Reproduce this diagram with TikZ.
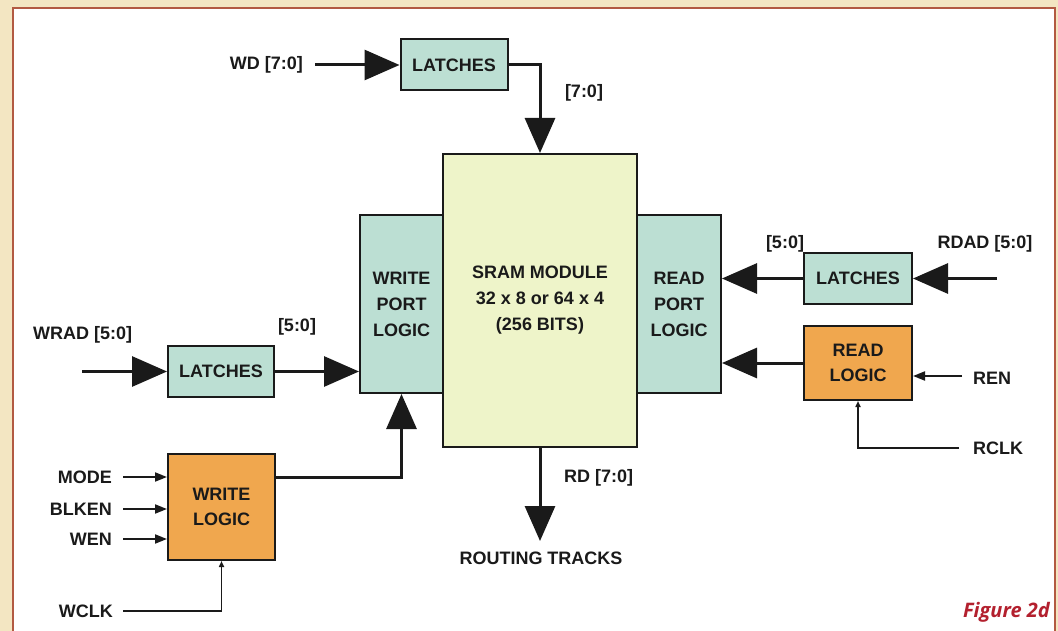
\documentclass[tikz,border=0pt]{standalone}
\usepackage{fontspec}
\setmainfont{Liberation Sans}
\newfontfamily\figfont{Open Sans}
\usetikzlibrary{arrows.meta}
\definecolor{tanbg}{HTML}{F3E6C2}
\definecolor{frameline}{HTML}{B25A42}
\definecolor{tealfill}{HTML}{BCDFD3}
\definecolor{sramfill}{HTML}{EEF4C9}
\definecolor{orangefill}{HTML}{F0A74E}
\definecolor{ink}{HTML}{1A1A1A}
\definecolor{figred}{HTML}{B3202E}
\tikzset{
  blk/.style={draw=ink, line width=2pt, inner sep=0pt, align=center, text=ink,
     font=\fontsize{18}{26}\selectfont\bfseries},
  teal/.style={blk, fill=tealfill},
  orng/.style={blk, fill=orangefill, font=\fontsize{18}{25}\selectfont\bfseries},
  sramstyle/.style={blk, fill=sramfill},
  lbl/.style={text=ink, inner sep=0pt, font=\fontsize{18}{20}\selectfont\bfseries},
  bus/.style={draw=ink, line width=3pt, -{Triangle[length=35pt,width=30pt]}},
  sig/.style={draw=ink, line width=2pt, -{Triangle[length=12pt,width=9pt]}},
  clk/.style={draw=ink, line width=1.6pt, -{Triangle[length=6pt,width=5pt]}},
}
\begin{document}
\begin{tikzpicture}[x=1pt,y=-1pt]
\useasboundingbox (0,0) rectangle (1058,631);
\fill[tanbg] (0,0) rectangle (1058,631);
\fill[white] (13,8) rectangle (1055,631);
\draw[frameline, line width=2pt] (13,631) -- (13,8) -- (1055,8) -- (1055,631);

% blocks
\node[sramstyle, minimum width=194pt, minimum height=293pt] (sram) at (540,300.5)
  {SRAM MODULE\\32 x 8 or 64 x 4\\(256 BITS)};
\node[teal, minimum width=83pt, minimum height=178pt] (wport) at (401.5,304)
  {WRITE\\PORT\\LOGIC};
\node[teal, minimum width=84pt, minimum height=178pt] (rport) at (679,304)
  {READ\\PORT\\LOGIC};
\node[teal, minimum width=107pt, minimum height=51pt] (latT) at (454,65) {LATCHES};
\node[teal, minimum width=108pt, minimum height=51pt] (latR) at (858,278.5) {LATCHES};
\node[teal, minimum width=106pt, minimum height=51pt] (latL) at (221,371.5) {LATCHES};
\node[orng, minimum width=108pt, minimum height=74pt] (rlog) at (858,363) {READ\\LOGIC};
\node[orng, minimum width=107pt, minimum height=106pt] (wlog) at (221.5,507) {WRITE\\LOGIC};

% free ends
\coordinate (wdin) at (315,65);
\coordinate (wradin) at (82,371.5);
\coordinate (rdadin) at (997,278.5);
\coordinate (renin) at (962,376);
\coordinate (rclkin) at (959,448);
\coordinate (modein) at (123,477);
\coordinate (blkenin) at (123,509);
\coordinate (wenin) at (123,539);
\coordinate (wclkin) at (123,611);
\coordinate (wlout) at (275,477);
\coordinate (rdout) at (540,541);

% connectors
\draw[bus] (wdin) -- (latT.west);
\draw[bus] (latT.east) -| (sram.north);
\draw[bus] (wradin) -- (latL.west);
\draw[bus] (latL.east) -- (latL.east -| wport.west);
\draw[bus] (wlout) -| (wport.south);
\draw[bus] (rdadin) -- (latR.east);
\draw[bus] (latR.west) -- (latR.west -| rport.east);
\draw[bus] (rlog.west) -- (rlog.west -| rport.east);
\draw[bus] (sram.south) -- (rdout);
\draw[sig] (modein) -- (modein -| wlog.west);
\draw[sig] (blkenin) -- (blkenin -| wlog.west);
\draw[sig] (wenin) -- (wenin -| wlog.west);
\draw[sig] (renin) -- (renin -| rlog.east);
\draw[clk] (wclkin) -| (wlog.south);
\draw[clk] (rclkin) -| (rlog.south);

% labels
\node[lbl, anchor=east] (lwd) at (303,65) {WD [7:0]};
\node[lbl] (l70) at (584,93) {[7:0]};
\node[lbl, anchor=west] (lwrad) at (33,335) {WRAD [5:0]};
\node[lbl] (l50a) at (297,327) {[5:0]};
\node[lbl] (l50b) at (785,244) {[5:0]};
\node[lbl] (lrdad) at (985,244) {RDAD [5:0]};
\node[lbl, anchor=west] (lren) at (973,378) {REN};
\node[lbl, anchor=west] (lrclk) at (973,448) {RCLK};
\node[lbl, anchor=east] (lmode) at (112,477) {MODE};
\node[lbl, anchor=east] (lblken) at (112,509) {BLKEN};
\node[lbl, anchor=east] (lwen) at (112,539) {WEN};
\node[lbl, anchor=east] (lwclk) at (113,611) {WCLK};
\node[lbl, anchor=west] (lrd) at (564,478) {RD [7:0]};
\node[lbl] (lrt) at (541,558) {ROUTING TRACKS};
\node[text=figred, inner sep=0pt, font=\figfont\bfseries\itshape\fontsize{20}{22}\selectfont, anchor=east] (fig) at (1050,612) {Figure 2d};
\end{tikzpicture}
\end{document}
